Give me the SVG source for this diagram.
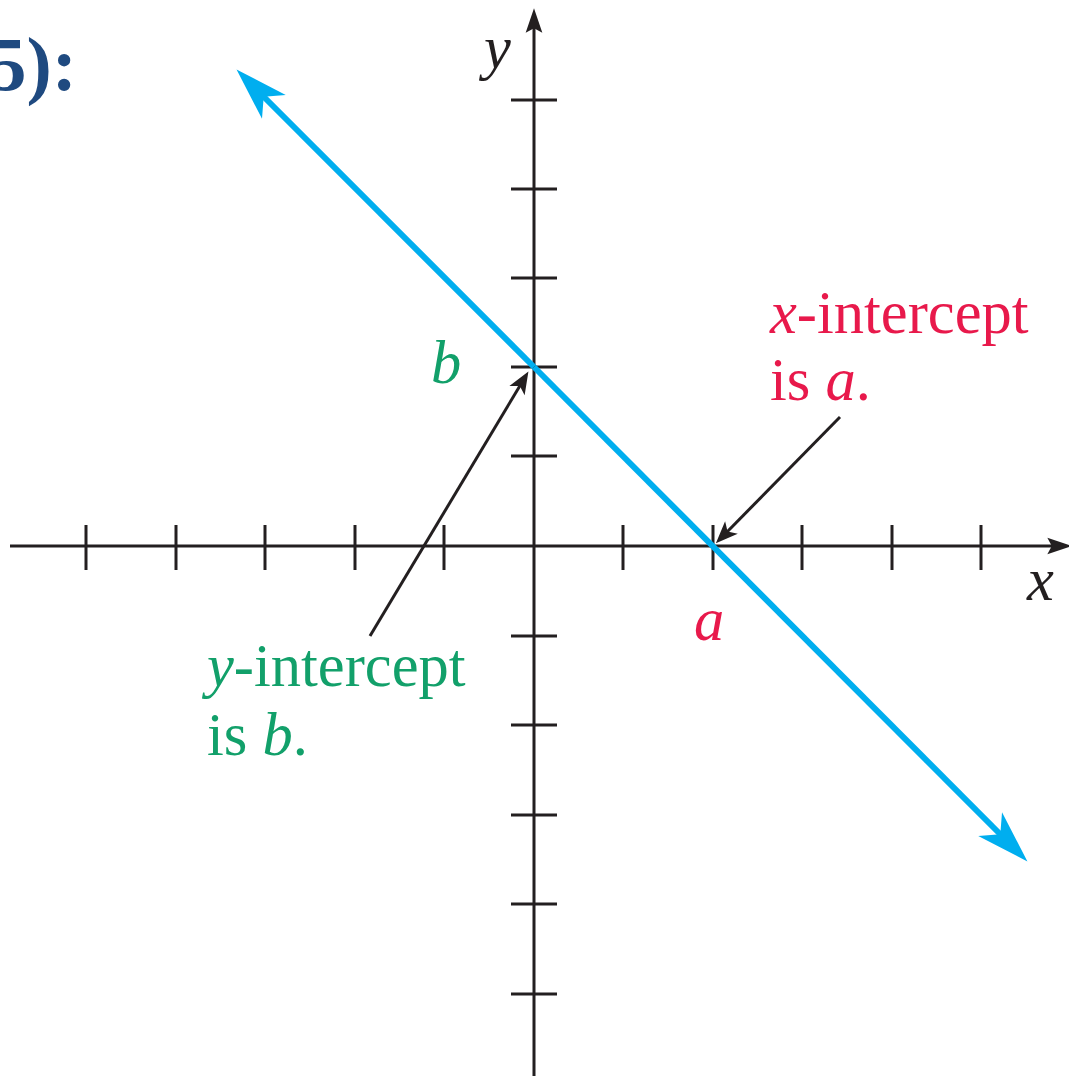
<svg xmlns="http://www.w3.org/2000/svg" width="1069" height="1076" viewBox="0 0 1069 1076">
<style>
.ax{stroke:#231f20;stroke-width:3;fill:none}
.tk{stroke:#231f20;stroke-width:3}
.ptr{stroke:#231f20;stroke-width:3;fill:none}
.ln{stroke:#00aeef;stroke-width:6;fill:none}
.t{font-family:"Liberation Serif","Times New Roman",serif;font-size:60.5px}
.i{font-style:italic}
.red{fill:#e8194b}
.grn{fill:#12a06a}
.blk{fill:#231f20}
</style>
<defs>
<marker id="blueHead" markerUnits="userSpaceOnUse" markerWidth="60" markerHeight="40" viewBox="-46 -16 50 32" refX="-30" refY="0" orient="auto">
<path d="M0,0 L-44,-14 L-32,0 L-44,14 Z" fill="#00aeef"/>
</marker>
<marker id="axHead" markerUnits="userSpaceOnUse" markerWidth="30" markerHeight="20" viewBox="-24 -9 26 18" refX="-16" refY="0" orient="auto">
<path d="M0,0 L-22,-7.5 L-18,0 L-22,7.5 Z" fill="#231f20"/>
</marker>
<marker id="ptrHead" markerUnits="userSpaceOnUse" markerWidth="30" markerHeight="20" viewBox="-24 -9 26 18" refX="-13" refY="0" orient="auto">
<path d="M0,0 L-20,-8 L-15,0 L-20,8 Z" fill="#231f20"/>
</marker>
</defs>
<g id="title">
<text x="77" y="90" text-anchor="end" style="font-family:'Liberation Serif','Times New Roman',serif;font-size:76px;font-weight:bold;fill:#1f4a80">5):</text>
</g>
<g id="axes">
<line class="ax" x1="10" y1="546" x2="1054" y2="546" marker-end="url(#axHead)"/>
<line class="ax" x1="534" y1="1076" x2="534" y2="26" marker-end="url(#axHead)"/>
<g id="xticks">
<line class="tk" x1="86" y1="525" x2="86" y2="570"/>
<line class="tk" x1="176" y1="525" x2="176" y2="570"/>
<line class="tk" x1="265" y1="525" x2="265" y2="570"/>
<line class="tk" x1="355" y1="525" x2="355" y2="570"/>
<line class="tk" x1="444" y1="525" x2="444" y2="570"/>
<line class="tk" x1="623" y1="525" x2="623" y2="570"/>
<line class="tk" x1="713" y1="525" x2="713" y2="570"/>
<line class="tk" x1="802" y1="525" x2="802" y2="570"/>
<line class="tk" x1="892" y1="525" x2="892" y2="570"/>
<line class="tk" x1="981" y1="525" x2="981" y2="570"/>
</g>
<g id="yticks">
<line class="tk" x1="511" y1="100" x2="557" y2="100"/>
<line class="tk" x1="511" y1="189" x2="557" y2="189"/>
<line class="tk" x1="511" y1="278" x2="557" y2="278"/>
<line class="tk" x1="511" y1="367" x2="557" y2="367"/>
<line class="tk" x1="511" y1="456" x2="557" y2="456"/>
<line class="tk" x1="511" y1="636" x2="557" y2="636"/>
<line class="tk" x1="511" y1="725" x2="557" y2="725"/>
<line class="tk" x1="511" y1="815" x2="557" y2="815"/>
<line class="tk" x1="511" y1="904" x2="557" y2="904"/>
<line class="tk" x1="511" y1="994" x2="557" y2="994"/>
</g>
<text class="t i blk" x="484" y="68">y</text>
<text class="t i blk" x="1027" y="600">x</text>
</g>
<g id="line">
<line class="ln" x1="534" y1="367" x2="262" y2="95" marker-end="url(#blueHead)"/>
<line class="ln" x1="534" y1="367" x2="1002" y2="836" marker-end="url(#blueHead)"/>
</g>
<g id="connectors">
<line class="ptr" x1="370" y1="636" x2="521" y2="384" marker-end="url(#ptrHead)"/>
<line class="ptr" x1="840" y1="417" x2="726" y2="533" marker-end="url(#ptrHead)"/>
</g>
<g id="label-b">
<text class="t i grn" x="431" y="383">b</text>
</g>
<g id="label-a">
<text class="t i red" x="694" y="640">a</text>
</g>
<g id="x-intercept-note">
<text class="t red" x="770" y="333"><tspan class="i">x</tspan>-intercept</text>
<text class="t red" x="770" y="400">is <tspan class="i">a</tspan>.</text>
</g>
<g id="y-intercept-note">
<text class="t grn" x="207" y="686"><tspan class="i">y</tspan>-intercept</text>
<text class="t grn" x="207" y="755">is <tspan class="i">b</tspan>.</text>
</g>
</svg>
